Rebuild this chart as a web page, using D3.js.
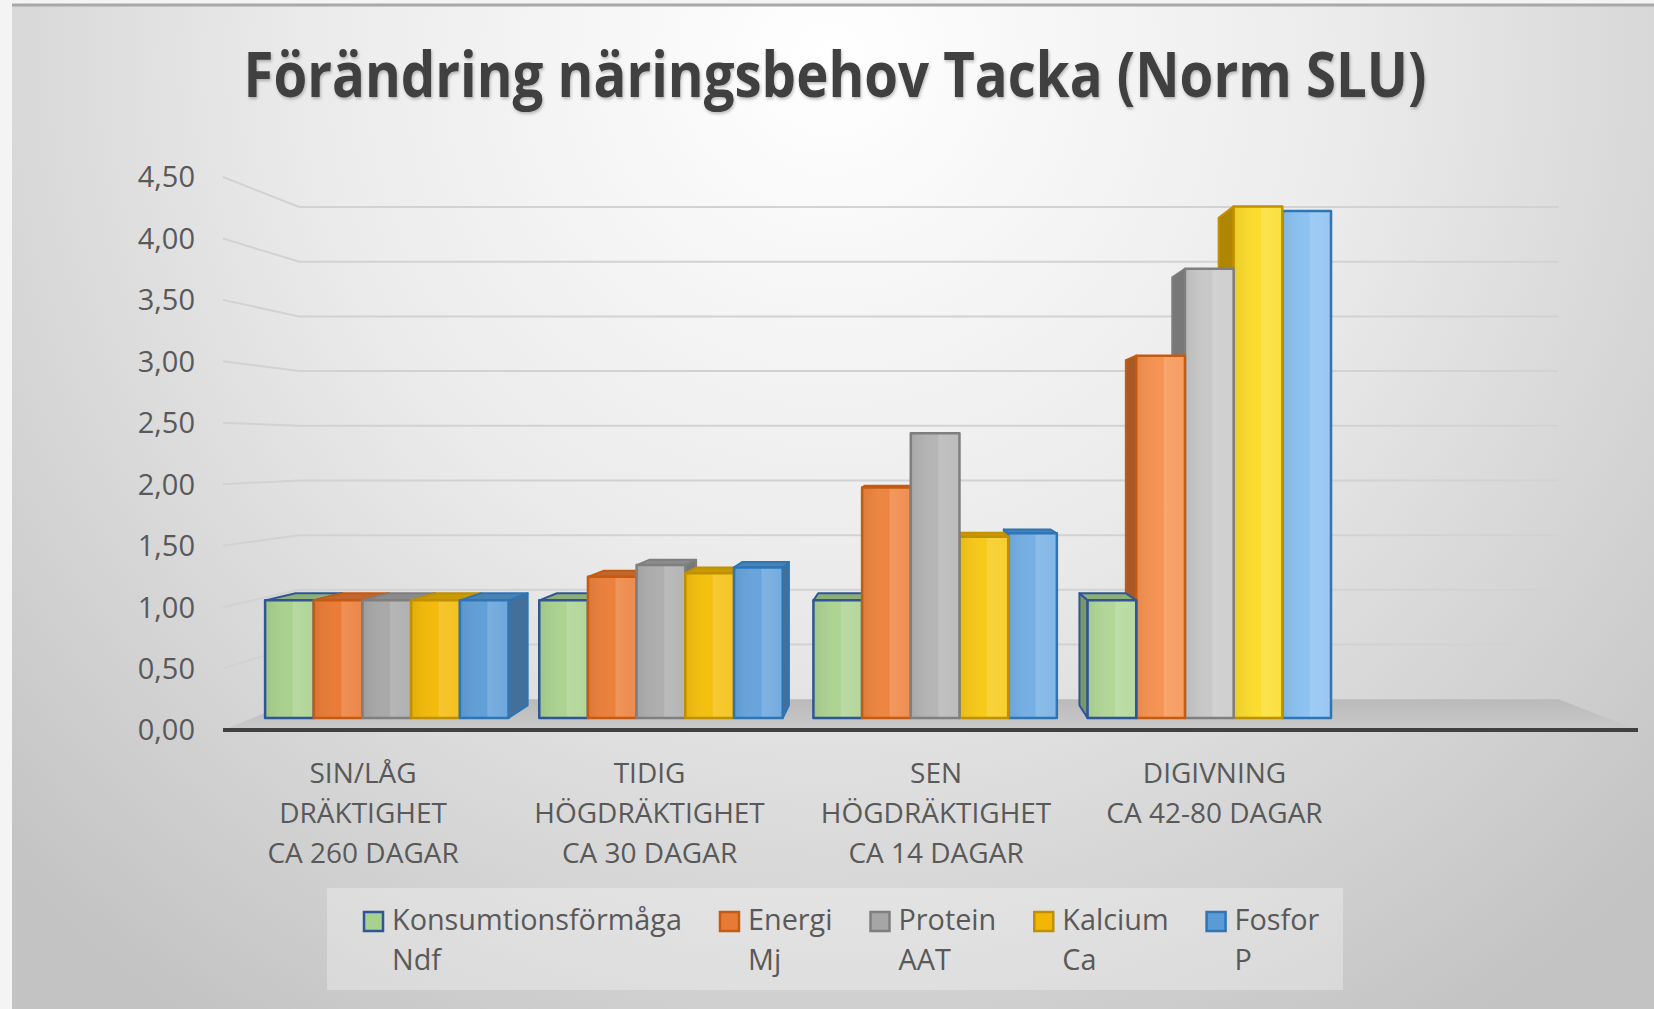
<!DOCTYPE html>
<html>
<head>
<meta charset="utf-8">
<script src="https://cdn.jsdelivr.net/npm/d3@7"></script>
<style>
  body { margin: 0; background: #ffffff; }
  text { font-family: "Open Sans", sans-serif; }
</style>
</head>
<body>
<svg id="chart" width="1654" height="1009"></svg>
<script>
// category labels, one array per category (lines)
var categories = [
    ["SIN/LÅG", "DRÄKTIGHET", "CA 260 DAGAR"],
    ["TIDIG", "HÖGDRÄKTIGHET", "CA 30 DAGAR"],
    ["SEN", "HÖGDRÄKTIGHET", "CA 14 DAGAR"],
    ["DIGIVNING", "CA 42-80 DAGAR"]
];
// legend names (two lines each)
var seriesNames = [
    ["Konsumtionsförmåga", "Ndf"],
    ["Energi", "Mj"],
    ["Protein", "AAT"],
    ["Kalcium", "Ca"],
    ["Fosfor", "P"]
];
// values
var konsumtion = [1.00, 1.00, 1.00, 1.00];
var energi     = [1.00, 1.20, 1.96, 3.08];
var protein    = [1.00, 1.30, 2.42, 3.82];
var kalcium    = [1.00, 1.23, 1.54, 4.35];
var fosfor     = [1.00, 1.28, 1.57, 4.31];
var yTicks = [0, 0.5, 1, 1.5, 2, 2.5, 3, 3.5, 4, 4.5];

var seriesValues = [konsumtion, energi, protein, kalcium, fosfor];

// colours: left (dim) and right (lit) end of the lighting gradient, outline
var fillLeft  = ["#a9d18e", "#e97a35", "#a6a6a6", "#f2b705", "#5b9bd5"];
var fillRight = ["#b6da9e", "#fb9d5e", "#d2d2d2", "#fde233", "#8fc4f3"];
var strokes   = ["#2f5597", "#c55a11", "#7f7f7f", "#bf9000", "#2e75b6"];

var svg = d3.select("#chart");
var defs = svg.append("defs");

// background gradient
var bg = defs.append("radialGradient")
    .attr("id", "bg")
    .attr("gradientUnits", "userSpaceOnUse")
    .attr("cx", 830).attr("cy", 60).attr("r", 1150);
bg.append("stop").attr("offset", "0%").attr("stop-color", "#ffffff");
bg.append("stop").attr("offset", "45%").attr("stop-color", "#ebebeb");
bg.append("stop").attr("offset", "100%").attr("stop-color", "#c3c3c3");

// lighting across the chart for each series
seriesValues.forEach(function(s, j) {
    var g = defs.append("linearGradient")
        .attr("id", "light" + j)
        .attr("gradientUnits", "userSpaceOnUse")
        .attr("x1", 250).attr("x2", 1340).attr("y1", 0).attr("y2", 0);
    g.append("stop").attr("offset", "0%").attr("stop-color", fillLeft[j]);
    g.append("stop").attr("offset", "60%").attr("stop-color", d3.interpolateRgb(fillLeft[j], fillRight[j])(0.3));
    g.append("stop").attr("offset", "100%").attr("stop-color", fillRight[j]);
});

// glassy bevel across each bar face
var bevel = defs.append("linearGradient").attr("id", "bevel");
bevel.append("stop").attr("offset", "0%").attr("stop-color", "#000").attr("stop-opacity", 0.07);
bevel.append("stop").attr("offset", "55%").attr("stop-color", "#fff").attr("stop-opacity", 0);
bevel.append("stop").attr("offset", "58%").attr("stop-color", "#fff").attr("stop-opacity", 0.16);
bevel.append("stop").attr("offset", "100%").attr("stop-color", "#fff").attr("stop-opacity", 0.08);

var floorGrad = defs.append("linearGradient").attr("id", "floor")
    .attr("x1", 0).attr("x2", 0).attr("y1", 0).attr("y2", 1);
floorGrad.append("stop").attr("offset", "0%").attr("stop-color", "#bababa");
floorGrad.append("stop").attr("offset", "100%").attr("stop-color", "#c9c9c9");

var shadow = defs.append("filter").attr("id", "shadow")
    .attr("x", "-5%").attr("y", "-20%").attr("width", "110%").attr("height", "150%");
shadow.append("feDropShadow").attr("dx", 1).attr("dy", 2)
    .attr("stdDeviation", 1.5).attr("flood-color", "#000").attr("flood-opacity", 0.25);

svg.append("rect").attr("width", 1654).attr("height", 1009).attr("fill", "#f4f4f4");
svg.append("rect")
    .attr("x", 12).attr("y", 5).attr("width", 1642).attr("height", 1004)
    .attr("fill", "url(#bg)");
svg.append("line").attr("x1", 12).attr("x2", 1654).attr("y1", 5).attr("y2", 5)
    .attr("stroke", "#a8a8a8").attr("stroke-width", 3);

// title
svg.append("text")
    .attr("x", 835).attr("y", 97)
    .attr("text-anchor", "middle")
    .attr("font-size", 62).attr("font-weight", "bold")
    .attr("fill", "#404040")
    .attr("textLength", 1183).attr("lengthAdjust", "spacingAndGlyphs")
    .attr("filter", "url(#shadow)")
    .text("Förändring näringsbehov Tacka (Norm SLU)");

// ---- 3D set-up: front plane scales + perspective towards a vanishing point
var vp = { x: 915, y: 450 };
var sFront = 0.957, sBack = 0.912, sWall = 0.89;
var floorX = [223, 1638];

var y = d3.scaleLinear().domain([0, 4.5]).range([730, 177]);

var x0 = d3.scaleBand()
    .domain(d3.range(categories.length))
    .range([223, 1362.6])
    .paddingInner(0.112)
    .paddingOuter(0.045);

var x1 = d3.scaleBand()
    .domain(d3.range(seriesValues.length))
    .range([0, x0.bandwidth()]);

function proj(X, v, s) {
    return [vp.x + (X - vp.x) * s, vp.y + (y(v) - vp.y) * s];
}
function poly(pts) { return pts.map(function(p) { return p.join(","); }).join(" "); }

var fmt = function(v) { return d3.format(".2f")(v).replace(".", ","); };

// gridlines (left side + back wall)
svg.append("g").selectAll("path")
    .data(yTicks.filter(function(v) { return v > 0; }))
    .enter().append("path")
    .attr("fill", "none")
    .attr("stroke", "#d2d2d2")
    .attr("stroke-width", 2)
    .attr("d", function(v) {
        var a = proj(floorX[0], v, 1), b = proj(floorX[0], v, sWall), c = proj(floorX[1], v, sWall);
        return "M" + a + "L" + b + "L" + c;
    });

// floor
svg.append("polygon")
    .attr("points", poly([proj(floorX[0], 0, 1), proj(floorX[1], 0, 1),
                          proj(floorX[1], 0, sWall), proj(floorX[0], 0, sWall)]))
    .attr("fill", "url(#floor)");

// y tick labels
svg.append("g").selectAll("text")
    .data(yTicks)
    .enter().append("text")
    .attr("x", 195)
    .attr("y", function(d) { return y(d); })
    .attr("dy", "0.36em")
    .attr("text-anchor", "end")
    .attr("font-size", 29)
    .attr("fill", "#595959")
    .text(fmt);

// bars
var bars = [];
categories.forEach(function(c, i) {
    seriesValues.forEach(function(s, j) {
        var X0 = x0(i) + x1(j);
        bars.push({ i: i, j: j, X0: X0, X1: X0 + x1.bandwidth(), v: s[i] });
    });
});
// paint the bars furthest from the vanishing point first
bars.sort(function(a, b) {
    return Math.abs((b.X0 + b.X1) / 2 - vp.x) - Math.abs((a.X0 + a.X1) / 2 - vp.x);
});

var barG = svg.append("g");
bars.forEach(function(d) {
    var g = barG.append("g");
    var base = d3.color(fillLeft[d.j]);
    var sideX = null;
    if (d.X1 < vp.x) sideX = d.X1;
    else if (d.X0 > vp.x) sideX = d.X0;
    if (sideX !== null) {
        g.append("polygon")
            .attr("points", poly([proj(sideX, 0, sFront), proj(sideX, 0, sBack),
                                  proj(sideX, d.v, sBack), proj(sideX, d.v, sFront)]))
            .attr("fill", base.darker(0.9))
            .attr("stroke", strokes[d.j]).attr("stroke-width", 2)
            .attr("stroke-linejoin", "round");
    }
    if (y(d.v) > vp.y) {
        g.append("polygon")
            .attr("points", poly([proj(d.X0, d.v, sFront), proj(d.X1, d.v, sFront),
                                  proj(d.X1, d.v, sBack), proj(d.X0, d.v, sBack)]))
            .attr("fill", base.darker(0.5))
            .attr("stroke", strokes[d.j]).attr("stroke-width", 2)
            .attr("stroke-linejoin", "round");
    }
    var front = poly([proj(d.X0, 0, sFront), proj(d.X1, 0, sFront),
                      proj(d.X1, d.v, sFront), proj(d.X0, d.v, sFront)]);
    g.append("polygon")
        .attr("points", front)
        .attr("fill", "url(#light" + d.j + ")");
    g.append("polygon")
        .attr("points", front)
        .attr("fill", "url(#bevel)")
        .attr("stroke", strokes[d.j]).attr("stroke-width", 2.5)
        .attr("stroke-linejoin", "round");
});

// category axis line
svg.append("line")
    .attr("x1", floorX[0]).attr("x2", floorX[1])
    .attr("y1", y(0)).attr("y2", y(0))
    .attr("stroke", "#404040").attr("stroke-width", 4);

// category labels
var catG = svg.append("g").selectAll("text")
    .data(categories)
    .enter().append("text")
    .attr("text-anchor", "middle")
    .attr("font-size", 28)
    .attr("fill", "#595959");
catG.selectAll("tspan")
    .data(function(d, i) { return d.map(function(t) { return { t: t, i: i }; }); })
    .enter().append("tspan")
    .attr("x", function(d) { return x0(d.i) + x0.bandwidth() / 2 - (d.i == 3 ? 8 : 0); })
    .attr("y", function(d, k) { return 783 + k * 40; })
    .text(function(d) { return d.t; });

// legend
svg.append("rect")
    .attr("x", 327).attr("y", 888).attr("width", 1016).attr("height", 102)
    .attr("fill", "#ffffff").attr("fill-opacity", 0.3);

var lx = 364;
seriesNames.forEach(function(n, j) {
    var g = svg.append("g").attr("transform", "translate(" + lx + ",0)");
    g.append("rect")
        .attr("x", 0).attr("y", 912).attr("width", 19).attr("height", 19)
        .attr("fill", fillLeft[j])
        .attr("stroke", strokes[j]).attr("stroke-width", 2.5);
    var t = g.append("text")
        .attr("font-size", 28.8)
        .attr("fill", "#595959");
    t.append("tspan").attr("x", 28).attr("y", 930).text(n[0]);
    t.append("tspan").attr("x", 28).attr("y", 970).text(n[1]);
    var w = t.node().getBBox().width;
    lx += 28 + w + 38;
});
</script>
</body>
</html>
